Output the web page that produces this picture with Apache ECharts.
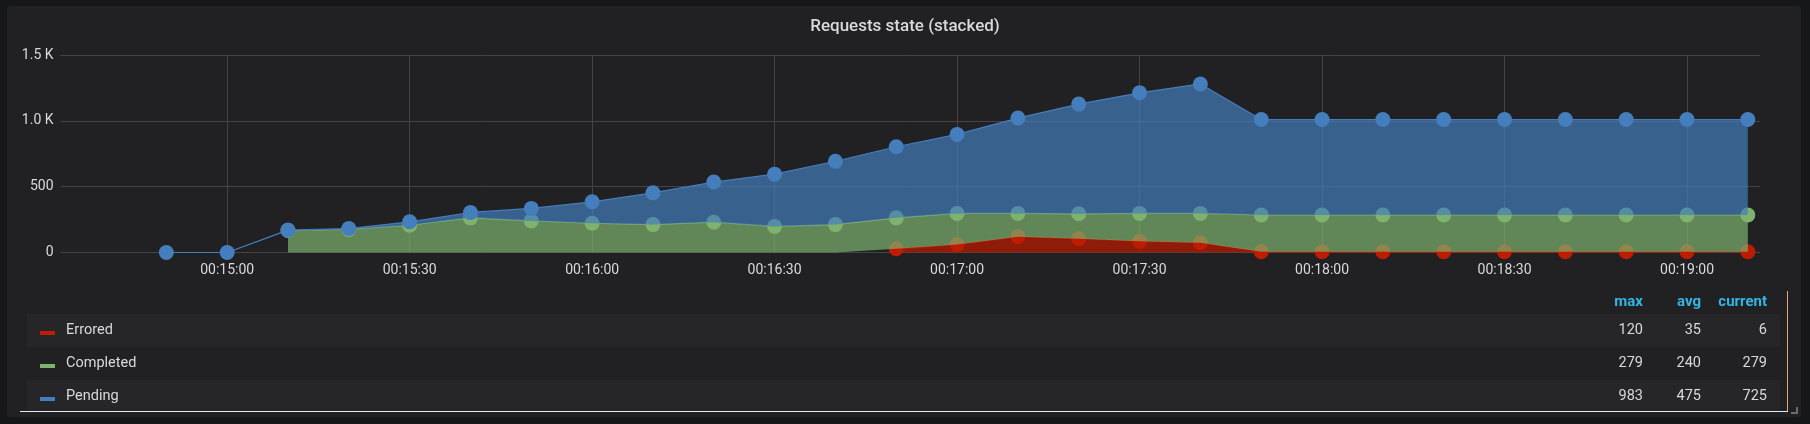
<!DOCTYPE html>
<html><head><meta charset="utf-8">
<script src="https://cdn.jsdelivr.net/npm/echarts@6/dist/echarts.min.js"></script>
<style>
html,body{margin:0;padding:0;background:#161719;}
#wrap{position:relative;width:1810px;height:424px;overflow:hidden;background:#161719;}
#panel{position:absolute;left:7px;top:6px;width:1794px;height:411px;background:#212124;border-radius:3px;}
#chart{position:absolute;left:0;top:0;width:1810px;height:424px;}
</style></head><body>
<div id="wrap"><div id="panel"></div><div id="chart"></div></div>
<script>
// ---- data ----
const times = ["00:14:50","00:15:00","00:15:10","00:15:20","00:15:30","00:15:40","00:15:50",
  "00:16:00","00:16:10","00:16:20","00:16:30","00:16:40","00:16:50",
  "00:17:00","00:17:10","00:17:20","00:17:30","00:17:40","00:17:50",
  "00:18:00","00:18:10","00:18:20","00:18:30","00:18:40","00:18:50",
  "00:19:00","00:19:10"];
const errored = [null,null,null,null,null,null,null,null,null,null,null,null,28,
  60,120,105,86,74,6, 6,6,6,6,6,6, 6,6];
const completed = [null,null,167,175,207,263,240,222,212,230,198,212,235,
  237,177,189,211,223,279, 279,279,279,279,279,279, 279,279];
const pending = [0,0,3,7,26,41,95,163,241,305,397,481,540,
  600,724,833,916,983,725, 725,725,725,725,725,725, 725,725];
const xTickLabels = ["00:15:00","00:15:30","00:16:00","00:16:30","00:17:00","00:17:30","00:18:00","00:18:30","00:19:00"];
const yTickLabels = ["0","500","1.0 K","1.5 K"];
const xRange = ["00:14:32.6","00:19:12"];
const seriesNames = ["Errored","Completed","Pending"];
const statHeaders = ["max","avg","current"];
const statMax = [120,279,983];
const statAvg = [35,240,475];
const statCurrent = [6,279,725];
const chartTitle = "Requests state (stacked)";

// ---- styling ----
const colors = ["#BF1B00","#7EB26D","#447EBC"];
const textColor = "#d8d9da";
const gridColor = "#444447";
const FONT = "Roboto, 'Noto Sans', sans-serif";

function toSec(s){const p=s.split(':').map(Number);return p[0]*3600+p[1]*60+p[2];}
const xTicks = xTickLabels.map(toSec);
const valueSets = [errored, completed, pending];

// value first, time second, so that stacking applies to the value (y) dimension
const series = valueSets.map((vals, k) => ({
  name: seriesNames[k], type: 'line', stack: 'total', z: 2 + k,
  encode: {x: 1, y: 0},
  data: times.map((t, i) => [vals[i] == null ? '-' : vals[i], toSec(t)]),
  symbol: 'circle', symbolSize: 15, showSymbol: true, showAllSymbol: true,
  lineStyle: {color: colors[k], width: 1.2},
  itemStyle: {color: colors[k], opacity: 1},
  areaStyle: {color: colors[k], opacity: 0.7},
  emphasis: {disabled: true}, silent: true, connectNulls: false, clip: true
}));

// ---- legend table as graphic elements ----
const g = [];
const rowY = [330, 363, 396];
const colRight = [1643, 1701, 1767];
g.push({type:'rect', shape:{x:27, y:314, width:1753, height:33}, style:{fill:'#262629'}, z:-5, silent:true});
g.push({type:'rect', shape:{x:27, y:380, width:1753, height:31}, style:{fill:'#262629'}, z:-5, silent:true});
statHeaders.forEach((h, j) => g.push({type:'text', x: colRight[j], y: 302, silent:true,
  style:{text:h, fill:'#33b5e5', font:'bold 15px '+FONT, textAlign:'right', textVerticalAlign:'middle', verticalAlign:'middle'}}));
const stats = [statMax, statAvg, statCurrent];
seriesNames.forEach((n, i) => {
  g.push({type:'rect', shape:{x:40, y:rowY[i]+1, width:15, height:4}, style:{fill:colors[i]}, silent:true});
  g.push({type:'text', x:66, y:rowY[i], silent:true,
    style:{text:n, fill:textColor, font:'14.5px '+FONT, textAlign:'left', textVerticalAlign:'middle', verticalAlign:'middle'}});
  stats.forEach((s, j) => g.push({type:'text', x: colRight[j], y: rowY[i], silent:true,
    style:{text:String(s[i]), fill:textColor, font:'14.5px '+FONT, textAlign:'right', textVerticalAlign:'middle', verticalAlign:'middle'}}));
});
g.push({type:'line', shape:{x1:20, y1:411.5, x2:1788, y2:411.5}, style:{stroke:'#e8e8e8', lineWidth:1}, silent:true});
g.push({type:'line', shape:{x1:1787.5, y1:291, x2:1787.5, y2:411}, style:{stroke:'#e9a27c', lineWidth:1}, silent:true});
g.push({type:'polyline', shape:{points:[[1791,413],[1797,413],[1797,407]]}, style:{stroke:'#6a6a6c', lineWidth:2, fill:null}, silent:true});

const chart = echarts.init(document.getElementById('chart'), null, {renderer:'canvas'});
chart.setOption({
  backgroundColor: 'transparent',
  animation: false,
  title: {text: chartTitle, left: 'center', top: 13,
    textStyle: {color: textColor, fontFamily: FONT, fontSize: 17, fontWeight: 500}},
  grid: {left: 60.5, right: 50, top: 55, height: 197.5, containLabel: false},
  xAxis: {
    type: 'value', min: toSec(xRange[0]), max: toSec(xRange[1]),
    axisLine: {show: false},
    axisTick: {show: false, customValues: xTicks},
    axisLabel: {customValues: xTicks, color: textColor, fontFamily: FONT, fontSize: 14, margin: 11,
      formatter: v => { const i = xTicks.indexOf(v); return i >= 0 ? xTickLabels[i] : ''; }},
    splitLine: {show: true, lineStyle: {color: gridColor, width: 1}}
  },
  yAxis: {
    type: 'value', min: 0, max: 1500, interval: 500,
    axisLine: {show: false}, axisTick: {show: false},
    axisLabel: {color: textColor, fontFamily: FONT, fontSize: 14, margin: 7,
      formatter: v => yTickLabels[Math.round(v / 500)]},
    splitLine: {show: true, lineStyle: {color: gridColor, width: 1}}
  },
  graphic: g,
  series: series
});
</script>
</body></html>
